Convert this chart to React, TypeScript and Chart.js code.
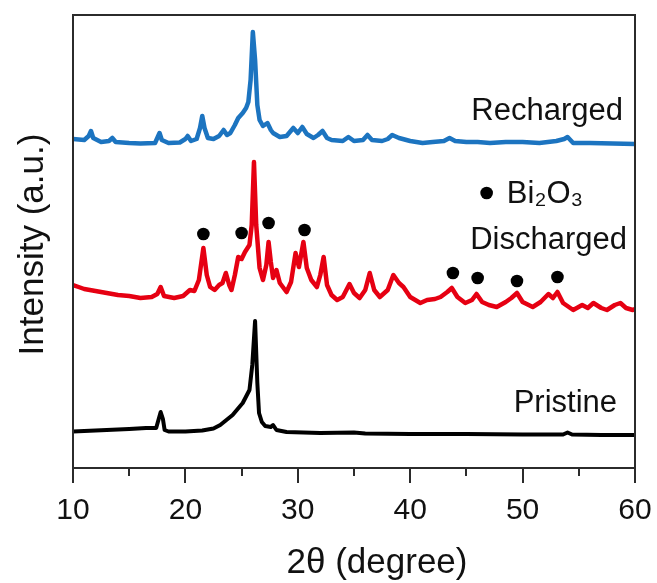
import React, { useEffect, useRef } from "react";
import { Chart, registerables } from "chart.js";

Chart.register(...registerables);

// 2θ (degree) vs intensity (a.u., arbitrary offset units)
const pristine: [number, number][] = [
  [10, 36.5], [11, 37], [13, 38], [15, 39], [16.5, 40], [17.4, 40], [17.6, 48], [17.8, 56], [18.0, 49],
  [18.15, 38], [18.5, 36.5], [20, 36.5], [21.5, 37.5], [22.5, 39.5], [23.1, 43], [24.2, 53], [25.1, 65],
  [25.7, 78], [25.95, 103], [26.2, 147], [26.4, 85], [26.55, 55], [26.8, 46], [27.1, 42], [27.6, 41],
  [27.8, 43], [28.1, 38], [29, 36], [32, 35], [35, 35.5], [36, 34.5], [40, 34], [45, 34], [50, 33.5],
  [53.6, 33.5], [54.0, 35.5], [54.4, 33.5], [57, 33], [60, 33],
];

const discharged: [number, number][] = [
  [10, 183], [10.5, 181], [11, 179], [12, 177], [13, 175], [14, 173], [15, 172], [16, 170], [17, 171],
  [17.5, 174], [17.8, 181], [18.1, 172], [19, 170], [19.8, 172], [20.4, 178], [20.8, 177], [21.2, 188],
  [21.6, 220], [21.9, 193], [22.2, 181], [22.6, 178], [23.0, 183], [23.3, 185], [23.6, 195], [23.9, 183],
  [24.1, 178], [24.4, 193], [24.7, 211], [25.0, 209], [25.3, 216], [25.7, 223], [25.9, 243], [26.1, 306],
  [26.3, 243], [26.6, 200], [26.9, 188], [27.2, 203], [27.4, 226], [27.6, 206], [27.8, 190], [28.1, 198],
  [28.4, 185], [29.0, 176], [29.4, 186], [29.8, 215], [30.1, 201], [30.5, 226], [30.8, 200], [31.2, 188],
  [31.7, 181], [32.0, 193], [32.3, 211], [32.6, 183], [33.0, 173], [33.5, 168], [34.0, 171], [34.6, 184],
  [35.0, 175], [35.5, 170], [36.0, 178], [36.4, 195], [36.8, 178], [37.3, 171], [38.0, 178], [38.5, 193],
  [39.0, 185], [39.4, 181], [40.0, 171], [40.9, 165], [41.5, 168], [42.2, 169], [42.7, 171], [43.3, 176],
  [43.7, 180], [44.2, 171], [44.9, 165], [45.5, 168], [45.9, 174], [46.4, 166], [47.0, 163], [47.7, 161],
  [48.5, 166], [49.0, 170], [49.5, 175], [50.0, 166], [50.9, 161], [51.6, 166], [52.3, 174], [52.7, 170],
  [53.1, 176], [53.6, 165], [54.5, 158], [55.3, 163], [55.8, 160], [56.3, 165], [57.0, 160], [57.5, 158],
  [58.2, 163], [58.7, 165], [59.2, 160], [59.8, 158], [60, 159],
];

const recharged: [number, number][] = [
  [10, 329], [11, 328], [11.4, 332], [11.6, 337], [11.8, 330], [12.5, 326], [13.2, 327], [13.5, 330],
  [13.8, 326], [15, 325], [16, 324.5], [17.3, 325], [17.5, 330], [17.7, 335], [17.9, 328], [18.5, 325],
  [19.5, 325.5], [20.0, 329], [20.2, 332], [20.5, 327], [21.0, 329], [21.3, 340], [21.5, 352], [21.7, 340],
  [22.0, 330], [22.5, 329], [23.0, 332], [23.4, 338], [23.7, 333], [24.0, 335], [24.4, 343], [24.7, 350],
  [25.1, 355], [25.4, 360], [25.6, 366], [25.8, 388], [26.0, 436], [26.2, 408], [26.4, 363], [26.6, 348],
  [26.9, 342], [27.3, 345], [27.6, 338], [27.8, 335], [28.4, 331], [29.0, 332], [29.6, 340], [30.0, 335],
  [30.4, 341], [30.8, 334], [31.4, 330], [31.8, 333], [32.2, 337], [32.6, 330], [33.0, 328], [34.0, 327],
  [34.5, 331], [35.0, 327], [35.8, 328], [36.2, 333], [36.6, 328], [37.5, 327], [38.0, 329], [38.4, 333],
  [39.0, 330], [40.0, 327], [41.1, 325], [42.0, 326], [43.0, 327], [43.5, 330], [44.0, 327], [45.0, 326],
  [46.0, 326], [47.1, 325], [48.5, 326], [50.0, 326], [51.5, 325], [53.0, 327], [53.7, 329], [54.0, 331],
  [54.5, 325], [56.0, 325], [58.0, 324.5], [60, 324],
];

// Bi2O3 reflection markers (x, y)
const bi2o3Marks: [number, number][] = [
  [21.6, 234], [25.0, 235], [27.4, 245], [30.6, 238], [43.8, 195], [46.0, 190], [49.5, 187], [53.1, 191],
];
const legendMark: [number, number][] = [[46.8, 275]];

// annotation labels: [text, x, y, align]
const seriesLabels: [string, number, number, CanvasTextAlign][] = [
  ["Recharged", 58.93, 348, "right"],
  ["Bi₂O₃", 48.6, 265, "left"],
  ["Discharged", 59.29, 219, "right"],
  ["Pristine", 58.4, 56, "right"],
];

const xMajorTicks = [10, 20, 30, 40, 50, 60];
const xMinorTicks = [15, 25, 35, 45, 55];

const FONT = "'Liberation Sans', Arial, 'DejaVu Sans', sans-serif";
const BLUE = "#1c74c0";
const RED = "#e60012";
const BLACK = "#000000";
const FRAME = "#2b2b2b";

const toPts = (arr: [number, number][]) => arr.map(([x, y]) => ({ x, y }));

const overlay = {
  id: "overlay",
  afterDraw(chart: any) {
    const { ctx, chartArea: a, scales } = chart;
    const xs = scales.x;
    const ys = scales.y;
    ctx.save();
    ctx.strokeStyle = FRAME;
    ctx.lineWidth = 2;
    ctx.strokeRect(a.left, a.top, a.right - a.left, a.bottom - a.top);
    ctx.beginPath();
    for (const v of xMajorTicks) {
      const px = Math.round(xs.getPixelForValue(v));
      ctx.moveTo(px, a.bottom);
      ctx.lineTo(px, a.bottom + 15);
    }
    for (const v of xMinorTicks) {
      const px = Math.round(xs.getPixelForValue(v));
      ctx.moveTo(px, a.bottom);
      ctx.lineTo(px, a.bottom + 8);
    }
    ctx.stroke();

    ctx.fillStyle = "#111";
    ctx.textBaseline = "alphabetic";
    ctx.font = `31px ${FONT}`;
    for (const [t, x, y, al] of seriesLabels) {
      ctx.textAlign = al;
      ctx.fillText(t, xs.getPixelForValue(x), ys.getPixelForValue(y));
    }

    // axis titles
    ctx.font = `35px ${FONT}`;
    ctx.textAlign = "center";
    ctx.fillText("2θ (degree)", 377, 573);
    ctx.save();
    ctx.translate(43, (a.top + a.bottom) / 2 + 3);
    ctx.rotate(-Math.PI / 2);
    ctx.fillText("Intensity (a.u.)", 0, 0);
    ctx.restore();
    ctx.restore();
  },
};

export default function App() {
  const ref = useRef<HTMLCanvasElement | null>(null);
  useEffect(() => {
    document.body.style.margin = "0";
    const canvas = ref.current;
    if (!canvas) return;
    const lineDs = (label: string, d: [number, number][], color: string, w: number) => ({
      type: "line" as const,
      label,
      data: toPts(d),
      borderColor: color,
      backgroundColor: color,
      borderWidth: w,
      pointRadius: 0,
      tension: 0,
      fill: false,
      order: 2,
      borderJoinStyle: "round" as const,
      borderCapStyle: "round" as const,
    });
    const chart = new Chart(canvas, {
      type: "line",
      data: {
        datasets: [
          lineDs("Pristine", pristine, BLACK, 4),
          lineDs("Discharged", discharged, RED, 4.5),
          lineDs("Recharged", recharged, BLUE, 4.5),
          {
            type: "scatter" as const,
            label: "Bi2O3",
            data: toPts([...bi2o3Marks, ...legendMark]),
            pointRadius: 6.3,
            pointBackgroundColor: "#000",
            pointBorderWidth: 0,
            showLine: false,
            order: 0,
          } as any,
        ],
      },
      options: {
        animation: false,
        responsive: false,
        maintainAspectRatio: false,
        layout: { padding: { left: 73, right: 22, top: 15, bottom: 0 } },
        plugins: { legend: { display: false }, tooltip: { enabled: false } },
        scales: {
          x: {
            type: "linear",
            min: 10,
            max: 60,
            grid: { display: false, drawTicks: false },
            border: { display: false },
            ticks: {
              stepSize: 10,
              padding: 25,
              color: "#111",
              font: { size: 30, family: FONT },
              maxRotation: 0,
            },
            afterFit: (s: any) => {
              s.height = 115;
              s.paddingLeft = 0;
              s.paddingRight = 0;
            },
          },
          y: {
            type: "linear",
            min: 0,
            max: 453,
            display: false,
          },
        },
      },
      plugins: [overlay],
    });
    return () => chart.destroy();
  }, []);
  return (
    <div style={{ width: 657, height: 583 }}>
      <canvas ref={ref} width={657} height={583} style={{ display: "block" }} />
    </div>
  );
}
